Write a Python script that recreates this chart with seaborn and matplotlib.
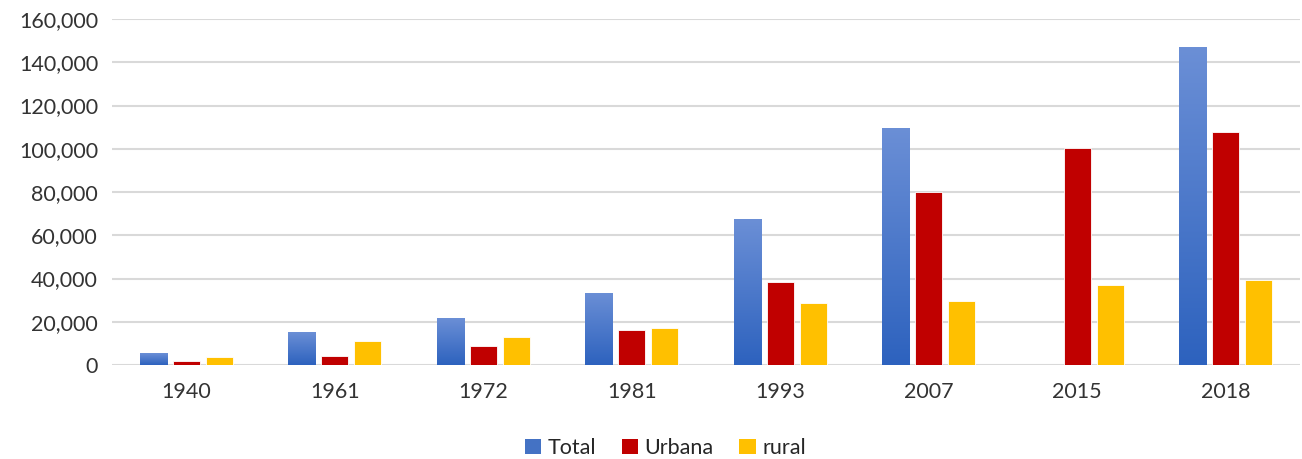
import matplotlib
matplotlib.use("Agg")
import matplotlib.pyplot as plt
import seaborn as sns
import pandas as pd
import numpy as np
from matplotlib.ticker import FuncFormatter
from matplotlib.colors import LinearSegmentedColormap
from matplotlib.patches import Patch

years = ["1940", "1961", "1972", "1981", "1993", "2007", "2015", "2018"]
total = [5400, 15200, 21600, 33300, 67300, 109800, 0, 146900]
urbana = [1700, 4200, 8800, 16200, 38500, 80200, 100500, 107600]
rural = [3700, 11100, 12800, 17100, 28600, 29400, 36800, 39300]
series = ["Total", "Urbana", "rural"]
colors = ["#4472C4", "#C00000", "#FFC000"]

df = pd.DataFrame({"year": years * 3,
                   "serie": sum([[s] * len(years) for s in series], []),
                   "value": total + urbana + rural})

sns.set_theme(style="white")
plt.rcParams["font.family"] = ["Lato", "DejaVu Sans"]

fig = plt.figure(figsize=(13.02, 4.59), dpi=100)
ax = fig.add_axes([112 / 1302, 1 - 365 / 459, 1188 / 1302, 346 / 459])

sns.barplot(data=df, x="year", y="value", hue="serie", hue_order=series,
            palette=colors, saturation=1, width=0.667, gap=0.18, ax=ax,
            legend=False, edgecolor="white", linewidth=0.6)

ax.set_ylim(0, 160000)
ax.set_xlim(-0.5, len(years) - 0.5)
ax.set_yticks(np.arange(0, 160001, 20000))
ax.yaxis.set_major_formatter(FuncFormatter(lambda v, p: f"{int(v):,}"))
ax.grid(axis="y", color="#d9d9d9", linewidth=1.5)
ax.set_axisbelow(True)
for s in ax.spines.values():
    s.set_visible(False)
ax.tick_params(axis="both", length=0, labelsize=15.5, colors="#333333")
ax.tick_params(axis="x", pad=12)
ax.tick_params(axis="y", pad=10)
ax.set_xlabel("")
ax.set_ylabel("")

# gradient for Total bars
cmap = LinearSegmentedColormap.from_list("g", ["#2d62be", "#6b8fd6"])
grad = np.linspace(0, 1, 256).reshape(-1, 1)
for bar in ax.containers[0]:
    h = bar.get_height()
    if h <= 0:
        continue
    x0 = bar.get_x()
    w = bar.get_width()
    im = ax.imshow(grad, cmap=cmap, aspect="auto", origin="lower",
                   extent=[x0, x0 + w, 0, h], zorder=bar.get_zorder() + 0.1)
    im.set_clip_path(bar)
ax.set_xlim(-0.5, len(years) - 0.5)
ax.set_ylim(0, 160000)

handles = [Patch(facecolor=c, edgecolor="none") for c in colors]
fig.legend(handles, series, loc="lower center", ncol=3, frameon=False,
           fontsize=15.5, bbox_to_anchor=(0.511, -0.04), handlelength=0.75,
           handleheight=0.75, handletextpad=0.3, columnspacing=1.2,
           labelcolor="#262626")

fig.savefig("out.png", dpi=100)
